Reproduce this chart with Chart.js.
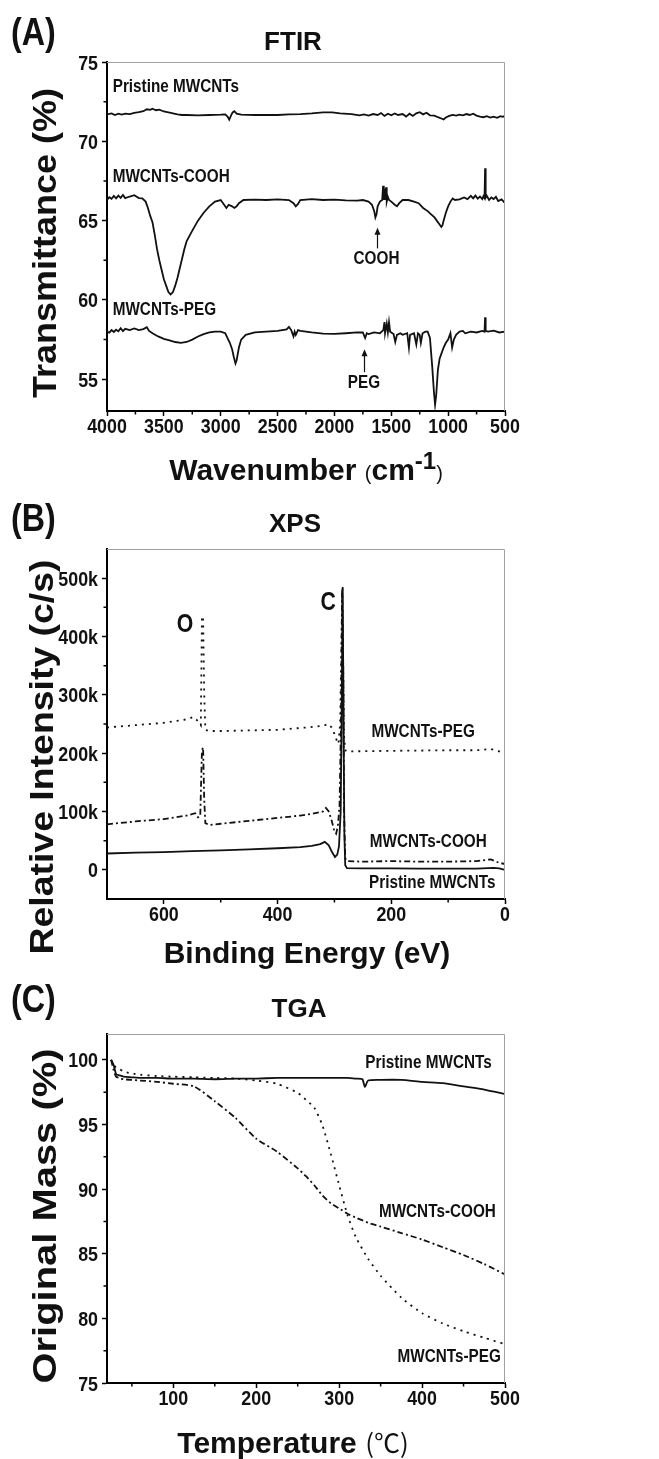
<!DOCTYPE html>
<html>
<head>
<meta charset="utf-8">
<title>FTIR / XPS / TGA</title>
<script src="https://cdn.jsdelivr.net/npm/chart.js@4.4.1/dist/chart.umd.min.js"></script>
<style>
    html, body { margin: 0; padding: 0; background: #fff; overflow: hidden; }
    #page { position: relative; width: 659px; height: 1459px; }
    canvas { position: absolute; left: 0; }
</style>
</head>
<body>
<div id="page">
    <canvas id="ftir" width="659" height="500" style="top:0"></canvas>
    <canvas id="xps" width="659" height="500" style="top:487px"></canvas>
    <canvas id="tga" width="659" height="484" style="top:975px"></canvas>
</div>
<script>
// ---------- (A) FTIR: [wavenumber cm-1, transmittance %]
const ftirPristine = [
    [4000, 71.70], [3960, 71.76], [3930, 71.66], [3900, 71.74], [3870, 71.68], [3840, 71.75], [3800, 71.72],
    [3760, 71.80], [3720, 71.84], [3680, 71.90], [3650, 72.02], [3620, 71.98], [3600, 72.06], [3570, 71.96],
    [3540, 72.00], [3500, 71.88], [3460, 71.82], [3420, 71.76], [3380, 71.70], [3340, 71.66], [3300, 71.66],
    [3200, 71.64], [3100, 71.66], [3000, 71.68], [2960, 71.70], [2940, 71.56], [2925, 71.36], [2910, 71.62],
    [2895, 71.82], [2880, 71.90], [2860, 71.74], [2820, 71.68], [2700, 71.66], [2600, 71.66], [2500, 71.66],
    [2400, 71.70], [2300, 71.72], [2200, 71.76], [2100, 71.82], [2020, 71.82], [1950, 71.76], [1850, 71.72],
    [1780, 71.64], [1740, 71.70], [1700, 71.62], [1660, 71.72], [1620, 71.66], [1590, 71.78], [1560, 71.60],
    [1530, 71.74], [1500, 71.64], [1470, 71.76], [1440, 71.66], [1400, 71.72], [1370, 71.56], [1340, 71.74],
    [1310, 71.60], [1280, 71.76], [1250, 71.84], [1220, 71.70], [1190, 71.80], [1160, 71.64], [1120, 71.62],
    [1090, 71.52], [1060, 71.44], [1040, 71.38], [1020, 71.50], [990, 71.60], [960, 71.66], [930, 71.62],
    [900, 71.68], [870, 71.64], [840, 71.72], [810, 71.66], [780, 71.74], [750, 71.62], [720, 71.56],
    [690, 71.52], [660, 71.58], [630, 71.50], [600, 71.56], [570, 71.48], [540, 71.58], [520, 71.54], [500, 71.60]
]
const ftirCooh = [
    [4000, 66.30], [3980, 66.48], [3960, 66.38], [3940, 66.56], [3920, 66.40], [3900, 66.58], [3880, 66.44],
    [3860, 66.62], [3840, 66.42], [3800, 66.52], [3760, 66.60], [3720, 66.42], [3690, 66.40], [3660, 66.20],
    [3640, 65.80], [3620, 65.30], [3600, 64.90], [3580, 64.10], [3560, 63.20], [3540, 62.50], [3520, 61.90],
    [3500, 61.30], [3480, 60.90], [3460, 60.50], [3440, 60.35], [3420, 60.50], [3400, 60.90], [3380, 61.40],
    [3360, 62.00], [3340, 62.60], [3320, 63.20], [3300, 63.70], [3270, 64.10], [3240, 64.50], [3200, 65.00],
    [3150, 65.50], [3100, 65.90], [3050, 66.20], [3000, 66.30], [2970, 66.00], [2950, 65.80], [2930, 66.00],
    [2900, 65.90], [2880, 65.80], [2860, 65.90], [2840, 66.10], [2800, 66.30], [2700, 66.32], [2600, 66.30],
    [2500, 66.34], [2400, 66.30], [2360, 66.10], [2340, 65.90], [2320, 66.05], [2300, 66.30], [2200, 66.36],
    [2100, 66.30], [2000, 66.32], [1900, 66.28], [1800, 66.26], [1750, 66.30], [1700, 66.20], [1670, 66.00],
    [1650, 65.60], [1640, 65.20], [1630, 65.40], [1620, 65.90], [1600, 66.20], [1580, 66.30], [1572, 67.20],
    [1566, 66.30], [1560, 67.00], [1552, 66.30], [1546, 67.10], [1540, 66.20], [1530, 66.50], [1520, 66.30],
    [1500, 66.20], [1470, 66.00], [1450, 65.90], [1430, 66.10], [1400, 66.30], [1350, 66.30], [1300, 66.20],
    [1260, 66.10], [1220, 65.80], [1180, 65.60], [1150, 65.40], [1120, 65.20], [1100, 65.00], [1080, 64.80],
    [1060, 64.60], [1050, 64.70], [1040, 65.00], [1020, 65.50], [1000, 65.90], [980, 66.20], [960, 66.40],
    [940, 66.30], [900, 66.34], [860, 66.46], [830, 66.36], [800, 66.56], [780, 66.40], [760, 66.58],
    [740, 66.38], [720, 66.52], [700, 66.36], [690, 66.54], [680, 66.42], [675, 68.30], [670, 66.44],
    [660, 66.56], [640, 66.30], [620, 66.46], [600, 66.36], [580, 66.50], [560, 66.24], [530, 66.34], [500, 66.10]
]
const ftirPeg = [
    [4000, 58.00], [3980, 57.94], [3960, 58.10], [3940, 57.98], [3920, 58.12], [3900, 58.02], [3880, 58.22],
    [3860, 58.04], [3840, 58.18], [3800, 58.10], [3760, 58.20], [3720, 58.10], [3680, 58.16], [3650, 58.28],
    [3630, 58.05], [3600, 57.90], [3550, 57.70], [3500, 57.55], [3450, 57.45], [3400, 57.35], [3350, 57.30],
    [3300, 57.35], [3250, 57.50], [3200, 57.70], [3150, 57.85], [3100, 57.95], [3050, 58.00], [3000, 58.00],
    [2960, 57.90], [2940, 57.60], [2920, 57.30], [2900, 56.90], [2885, 56.40], [2870, 56.00], [2860, 56.20],
    [2840, 57.00], [2820, 57.50], [2780, 57.80], [2700, 57.95], [2600, 58.00], [2500, 58.05], [2420, 58.15],
    [2400, 58.30], [2380, 58.10], [2360, 57.70], [2350, 58.00], [2340, 57.80], [2320, 58.10], [2300, 58.05],
    [2200, 57.95], [2100, 57.88], [2000, 57.86], [1900, 57.90], [1800, 57.95], [1750, 57.95], [1730, 57.60],
    [1715, 57.90], [1700, 57.85], [1650, 57.95], [1600, 57.90], [1570, 58.10], [1560, 58.60], [1555, 57.90],
    [1540, 58.50], [1530, 57.95], [1520, 58.60], [1510, 58.00], [1480, 57.85], [1465, 57.35], [1450, 57.80],
    [1420, 57.90], [1400, 57.80], [1360, 57.90], [1345, 57.00], [1335, 57.80], [1300, 57.90], [1280, 57.20],
    [1265, 57.90], [1250, 57.80], [1240, 57.30], [1225, 57.90], [1200, 58.00], [1180, 58.00], [1160, 57.60],
    [1140, 55.80], [1125, 54.20], [1115, 53.40], [1105, 54.00], [1090, 55.60], [1075, 56.30], [1060, 56.60],
    [1040, 57.00], [1020, 57.30], [1000, 57.50], [980, 57.90], [965, 57.00], [950, 57.50], [930, 57.80],
    [900, 58.00], [870, 58.05], [850, 57.90], [800, 58.00], [750, 57.95], [700, 58.05], [680, 58.00],
    [675, 58.90], [670, 58.05], [650, 58.00], [600, 58.06], [550, 57.95], [500, 58.00]
]
const ftirXTicks = [4000, 3500, 3000, 2500, 2000, 1500, 1000, 500]
const ftirXMinor = [3750, 3250, 2750, 2250, 1750, 1250, 750]
const ftirYTicks = [55, 60, 65, 70, 75]
const ftirYMinor = [57.5, 62.5, 67.5, 72.5]

// ---------- (B) XPS: [binding energy eV, counts/s]
const xpsPristine = [
    [700, 28000], [650, 29500], [600, 30500], [550, 32000], [500, 33500], [450, 35000], [400, 37000],
    [360, 39000], [340, 41000], [325, 44000], [317, 48000], [310, 42000], [304, 30000], [299, 22000],
    [295, 26000], [292, 40000], [289, 100000], [287, 300000], [285.5, 485000], [284, 250000], [282.5, 60000],
    [281, 8000], [278, 3000], [250, 2500], [200, 2500], [150, 2000], [100, 2000], [50, 2000], [30, 3000],
    [20, 3500], [10, 2500], [0, 0]
]
const xpsCooh = [
    [700, 78000], [650, 83000], [600, 87000], [560, 93000], [545, 97000], [540, 90000], [536, 92000],
    [533, 205000], [531, 210000], [529, 120000], [527, 80000], [520, 77000], [500, 79000], [450, 84000],
    [400, 89000], [360, 93000], [340, 96000], [320, 100000], [315, 106000], [310, 100000], [305, 85000],
    [300, 66000], [297, 62000], [294, 75000], [291, 110000], [288.5, 250000], [286.5, 480000], [284.5, 350000],
    [283, 100000], [281, 20000], [278, 15000], [250, 14000], [200, 15000], [150, 14000], [100, 14000],
    [50, 15000], [25, 18000], [10, 12000], [0, 10000]
]
const xpsPeg = [
    [700, 244000], [650, 248000], [600, 252000], [560, 258000], [548, 262000], [540, 255000], [535, 248000],
    [533, 430000], [531, 435000], [529, 300000], [527, 240000], [520, 238000], [500, 238000], [450, 239000],
    [400, 240000], [350, 244000], [320, 247000], [310, 250000], [305, 244000], [300, 233000], [296, 222000],
    [293, 216000], [290, 250000], [287.5, 400000], [286, 482000], [284.5, 350000], [283, 230000],
    [281, 205000], [278, 203000], [200, 204000], [100, 205000], [50, 205000], [25, 207000], [10, 203000],
    [0, 200000]
]
const xpsXTicks = [600, 400, 200, 0]
const xpsXMinor = [500, 300, 100]
const xpsYTicks = [0, 100000, 200000, 300000, 400000, 500000]
const xpsYMinor = [50000, 150000, 250000, 350000, 450000]

// ---------- (C) TGA: [temperature C, mass %]
const tgaPristine = [
    [25, 100], [28, 99.6], [31, 98.9], [35, 98.8], [40, 98.7], [50, 98.65], [60, 98.6], [80, 98.6],
    [100, 98.55], [125, 98.55], [150, 98.5], [175, 98.55], [200, 98.55], [225, 98.6], [250, 98.6],
    [275, 98.6], [300, 98.6], [310, 98.6], [320, 98.55], [328, 98.5], [331, 97.9], [335, 98.4], [350, 98.45],
    [375, 98.45], [400, 98.3], [425, 98.2], [450, 97.95], [475, 97.7], [500, 97.35]
]
const tgaCooh = [
    [25, 100], [28, 99.2], [31, 98.7], [35, 98.6], [40, 98.5], [50, 98.45], [60, 98.4], [80, 98.3],
    [100, 98.15], [125, 97.95], [150, 96.8], [175, 95.5], [200, 93.9], [225, 92.9], [250, 91.6], [260, 91.0],
    [270, 90.3], [280, 89.5], [290, 88.9], [300, 88.5], [310, 88.1], [320, 87.8], [335, 87.4], [350, 87.1],
    [375, 86.6], [400, 86.1], [425, 85.5], [450, 84.9], [475, 84.2], [500, 83.4]
]
const tgaPeg = [
    [25, 100], [28, 99.6], [31, 99.4], [35, 99.3], [40, 99.1], [50, 98.95], [60, 98.85], [80, 98.75],
    [100, 98.7], [125, 98.65], [150, 98.6], [175, 98.55], [200, 98.4], [225, 98.15], [250, 97.45],
    [260, 96.9], [270, 96.3], [280, 94.9], [290, 92.7], [300, 90.3], [310, 88.0], [320, 86.3], [335, 84.6],
    [350, 83.3], [375, 81.6], [400, 80.4], [425, 79.6], [450, 79.0], [475, 78.5], [500, 78.0]
]
const tgaXTicks = [100, 200, 300, 400, 500]
const tgaXMinor = [50, 150, 250, 350, 450]
const tgaYTicks = [75, 80, 85, 90, 95, 100]
const tgaYMinor = [77.5, 82.5, 87.5, 92.5, 97.5]

// ---------- drawing
const SANS = "'Liberation Sans', Arial, Helvetica, sans-serif"
const INK = '#111'
const NARROW = 0.85 // horizontal squeeze, stands in for Arial Narrow
const SOLID = []
const DASH_DOT = [6, 3, 2, 3]
const DOTTED = [2, 5]

const toPoints = pairs => pairs.map(([x, y]) => ({ x, y }))

function lineSet(pairs, dash, tension = 0) {
    return {
        data: toPoints(pairs),
        borderColor: INK,
        borderWidth: 1.8,
        borderDash: dash,
        borderCapStyle: 'butt',
        pointRadius: 0,
        fill: false,
        tension
    }
}

// bold text squeezed horizontally (the original uses a condensed face)
function narrowText(ctx, text, x, y, align, size) {
    ctx.save()
    ctx.translate(x, y)
    ctx.scale(NARROW, 1)
    ctx.font = `bold ${size}px ${SANS}`
    ctx.textAlign = align
    ctx.fillText(text, 0, 0)
    ctx.restore()
}

function drawParts(ctx, parts, cx, baseline) {
    const widths = parts.map(part => { ctx.font = part.font; return ctx.measureText(part.text).width })
    let x = cx - widths.reduce((a, b) => a + b, 0) / 2
    parts.forEach((part, idx) => {
        ctx.font = part.font
        ctx.fillText(part.text, x, baseline - (part.rise || 0))
        x += widths[idx]
    })
}

function decorPlugin(panel) {
    return {
        id: 'decor',
        afterDraw(chart) {
            const { ctx, chartArea: area } = chart
            const xs = chart.scales.x
            const ys = chart.scales.y
            ctx.save()

            // thin grey frame on top and right
            ctx.strokeStyle = '#a0a0a0'
            ctx.lineWidth = 1
            ctx.beginPath()
            ctx.moveTo(area.left, area.top + 0.5)
            ctx.lineTo(area.right - 0.5, area.top + 0.5)
            ctx.lineTo(area.right - 0.5, area.bottom)
            ctx.stroke()

            // minor ticks
            ctx.strokeStyle = '#000'
            ctx.lineWidth = 1.5
            ctx.beginPath()
            panel.x.minor.forEach(v => {
                const px = xs.getPixelForValue(v)
                ctx.moveTo(px, area.bottom)
                ctx.lineTo(px, area.bottom + 3.5)
            })
            panel.y.minor.forEach(v => {
                const py = ys.getPixelForValue(v)
                ctx.moveTo(area.left - 3.5, py)
                ctx.lineTo(area.left, py)
            })
            ctx.stroke()

            // tick labels
            ctx.fillStyle = INK
            ctx.textBaseline = 'alphabetic'
            const format = panel.y.format || (v => String(v))
            panel.x.ticks.forEach(v => narrowText(ctx, String(v), xs.getPixelForValue(v), area.bottom + 22, 'center', 21))
            panel.y.ticks.forEach(v => narrowText(ctx, format(v), area.left - 9, ys.getPixelForValue(v) + 7.5, 'right', 21))

            ctx.textBaseline = 'middle'
            narrowText(ctx, panel.label.text, panel.label.x, panel.label.y, 'left', 38)

            ctx.textBaseline = 'alphabetic'
            ctx.textAlign = 'center'
            ctx.font = `bold 26px ${SANS}`
            ctx.fillText(panel.title.text, panel.title.x, panel.title.y)

            // x axis title
            ctx.textAlign = 'left'
            drawParts(ctx, panel.xTitle.parts, panel.xTitle.x, panel.xTitle.y)

            // y axis title, stretched along its length
            const yt = panel.yTitle
            ctx.save()
            ctx.translate(yt.x, yt.y)
            ctx.rotate(-Math.PI / 2)
            ctx.font = `bold ${yt.size}px ${SANS}`
            ctx.textAlign = 'center'
            ctx.scale(yt.length / ctx.measureText(yt.text).width, 1)
            ctx.fillText(yt.text, 0, 0)
            ctx.restore()

            // curve labels
            ctx.textBaseline = 'middle'
            panel.notes.forEach(note => {
                narrowText(ctx, note.text, xs.getPixelForValue(note.x), ys.getPixelForValue(note.y), note.align, note.size || 18)
            })

            // arrows pointing at peaks
            ctx.lineWidth = 1.2
            ctx.strokeStyle = INK
            panel.arrows.forEach(arrow => {
                const px = Math.round(xs.getPixelForValue(arrow.x)) + 0.5
                const tail = ys.getPixelForValue(arrow.from)
                const head = ys.getPixelForValue(arrow.to)
                ctx.beginPath()
                ctx.moveTo(px, tail)
                ctx.lineTo(px, head + 5)
                ctx.stroke()
                ctx.beginPath()
                ctx.moveTo(px, head)
                ctx.lineTo(px - 3, head + 7)
                ctx.lineTo(px + 3, head + 7)
                ctx.closePath()
                ctx.fill()
            })
            ctx.restore()
        }
    }
}

function axis(spec, afterFit) {
    return {
        type: 'linear',
        min: spec.min,
        max: spec.max,
        reverse: !!spec.reverse,
        afterFit,
        afterBuildTicks: scale => { scale.ticks = spec.ticks.map(value => ({ value })) },
        grid: { drawOnChartArea: false, drawTicks: true, tickLength: 5, tickColor: '#000', tickWidth: 1.5 },
        border: { color: '#000', width: 2 },
        ticks: { display: false }
    }
}

function makeChart(id, panel) {
    const canvas = document.getElementById(id)
    const height = canvas.height
    return new Chart(canvas, {
        type: 'line',
        data: { datasets: panel.series },
        options: {
            responsive: false,
            animation: false,
            events: [],
            layout: { padding: { top: panel.area.top, right: canvas.width - panel.area.right, left: 0, bottom: 0 } },
            scales: {
                x: axis(panel.x, scale => { scale.height = height - panel.area.bottom }),
                y: axis(panel.y, scale => { scale.width = panel.area.left })
            },
            plugins: { legend: { display: false }, tooltip: { enabled: false } }
        },
        plugins: [decorPlugin(panel)]
    })
}

const bigBold = `bold 30px ${SANS}`

makeChart('ftir', {
    area: { top: 62, bottom: 411, left: 107, right: 505 },
    label: { text: '(A)', x: 11, y: 35 },
    title: { text: 'FTIR', x: 293, y: 50 },
    x: { min: 500, max: 4000, reverse: true, ticks: ftirXTicks, minor: ftirXMinor },
    y: { min: 53, max: 75, ticks: ftirYTicks, minor: ftirYMinor },
    xTitle: { x: 306, y: 480, parts: [
        { text: 'Wavenumber ', font: bigBold },
        { text: '(', font: `20px ${SANS}` },
        { text: 'cm', font: bigBold },
        { text: '-1', font: `bold 24px ${SANS}`, rise: 11 },
        { text: ')', font: `20px ${SANS}` }
    ] },
    yTitle: { text: 'Transmittance (%)', x: 56, y: 243, length: 310, size: 34 },
    series: [lineSet(ftirPristine, SOLID), lineSet(ftirCooh, SOLID), lineSet(ftirPeg, SOLID)],
    notes: [
        { text: 'Pristine MWCNTs', x: 3950, y: 73.4, align: 'left' },
        { text: 'MWCNTs-COOH', x: 3950, y: 67.75, align: 'left' },
        { text: 'MWCNTs-PEG', x: 3950, y: 59.35, align: 'left' },
        { text: 'COOH', x: 1630, y: 62.55, align: 'center' },
        { text: 'PEG', x: 1740, y: 54.75, align: 'center' }
    ],
    arrows: [
        { x: 1630, from: 63.25, to: 64.55 },
        { x: 1740, from: 55.45, to: 56.9 }
    ]
})

makeChart('xps', {
    area: { top: 62, bottom: 412, left: 107, right: 505 },
    label: { text: '(B)', x: 11, y: 34 },
    title: { text: 'XPS', x: 295, y: 45 },
    x: { min: 0, max: 700, reverse: true, ticks: xpsXTicks, minor: xpsXMinor },
    y: { min: -50000, max: 550000, ticks: xpsYTicks, minor: xpsYMinor, format: v => v === 0 ? '0' : `${v / 1000}k` },
    xTitle: { x: 307, y: 476, parts: [{ text: 'Binding Energy (eV)', font: bigBold }] },
    yTitle: { text: 'Relative Intensity (c/s)', x: 53, y: 270, length: 395, size: 34 },
    series: [lineSet(xpsPristine, SOLID), lineSet(xpsCooh, DASH_DOT), lineSet(xpsPeg, DOTTED)],
    notes: [
        { text: 'O', x: 563, y: 420000, align: 'center', size: 25 },
        { text: 'C', x: 311, y: 458000, align: 'center', size: 25 },
        { text: 'MWCNTs-PEG', x: 144, y: 237000, align: 'center' },
        { text: 'MWCNTs-COOH', x: 135, y: 48000, align: 'center' },
        { text: 'Pristine MWCNTs', x: 128, y: -22000, align: 'center' }
    ],
    arrows: []
})

makeChart('tga', {
    area: { top: 59, bottom: 408, left: 107, right: 505 },
    label: { text: '(C)', x: 11, y: 27 },
    title: { text: 'TGA', x: 299, y: 42 },
    x: { min: 20, max: 500, ticks: tgaXTicks, minor: tgaXMinor },
    y: { min: 75, max: 102, ticks: tgaYTicks, minor: tgaYMinor },
    xTitle: { x: 293, y: 478, parts: [
        { text: 'Temperature ', font: bigBold },
        { text: '(℃)', font: `26px 'Noto Sans CJK SC', ${SANS}` }
    ] },
    yTitle: { text: 'Original Mass (%)', x: 56, y: 241, length: 335, size: 34 },
    series: [lineSet(tgaPristine, SOLID, 0.2), lineSet(tgaCooh, DASH_DOT, 0.2), lineSet(tgaPeg, DOTTED, 0.2)],
    notes: [
        { text: 'Pristine MWCNTs', x: 484, y: 99.77, align: 'right' },
        { text: 'MWCNTs-COOH', x: 489, y: 88.2, align: 'right' },
        { text: 'MWCNTs-PEG', x: 495, y: 77.0, align: 'right' }
    ],
    arrows: []
})
</script>
</body>
</html>
